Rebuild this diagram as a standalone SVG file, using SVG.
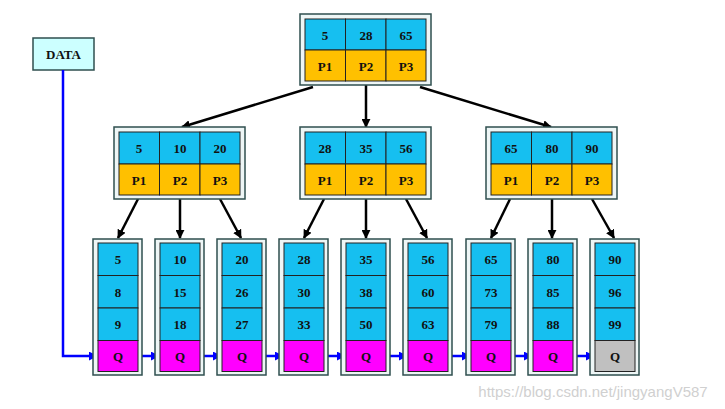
<svg xmlns="http://www.w3.org/2000/svg" width="725" height="409" viewBox="0 0 725 409">
<defs>
<marker id="ab" viewBox="0 0 10 10" refX="9" refY="5" markerWidth="9" markerHeight="9" markerUnits="userSpaceOnUse" orient="auto"><path d="M0,0L10,5L0,10z" fill="#000"/></marker>
<marker id="au" viewBox="0 0 10 10" refX="9" refY="5" markerWidth="9" markerHeight="9" markerUnits="userSpaceOnUse" orient="auto"><path d="M0,0L10,5L0,10z" fill="#0000ff"/></marker>
<style>
.o{fill:#eef6f6;stroke:#2f4f4f;stroke-width:1.5}
.k{fill:#16bff0;stroke:#222;stroke-width:1}
.y{fill:#ffc000;stroke:#222;stroke-width:1}
.m{fill:#ff00ff;stroke:#222;stroke-width:1}
.g{fill:#c0c0c0;stroke:#222;stroke-width:1}
text{font-family:"Liberation Serif",serif;font-weight:bold;font-size:13px;text-anchor:middle;fill:#111}
.c line{stroke:#000;stroke-width:2.5;marker-end:url(#ab)}
.b{stroke:#0000ff;stroke-width:2.5;fill:none}
</style>
</defs>
<rect width="725" height="409" fill="#fff"/>
<g id="data"><rect x="33" y="38" width="61" height="32" fill="#ccffff" stroke="#2f4f4f" stroke-width="1.5"/><text x="63.5" y="59" font-size="12">DATA</text></g>
<g class="c">
<line x1="313" y1="87" x2="182" y2="127"/>
<line x1="366" y1="84" x2="366" y2="127"/>
<line x1="420" y1="87" x2="551" y2="127"/>
<line x1="138" y1="199" x2="118" y2="238"/>
<line x1="180" y1="199" x2="180" y2="238"/>
<line x1="220" y1="199" x2="241" y2="238"/>
<line x1="324" y1="199" x2="304" y2="238"/>
<line x1="366" y1="199" x2="366" y2="238"/>
<line x1="406" y1="199" x2="427" y2="238"/>
<line x1="510" y1="199" x2="491" y2="238"/>
<line x1="552" y1="199" x2="552" y2="238"/>
<line x1="592" y1="199" x2="614" y2="238"/>
</g>
<g id="blue">
<polyline class="b" points="63,70 63,356 97,356" marker-end="url(#au)"/>
<line class="b" x1="139" y1="356" x2="159" y2="356" marker-end="url(#au)"/>
<line class="b" x1="201" y1="356" x2="221" y2="356" marker-end="url(#au)"/>
<line class="b" x1="263" y1="356" x2="283" y2="356" marker-end="url(#au)"/>
<line class="b" x1="325" y1="356" x2="345" y2="356" marker-end="url(#au)"/>
<line class="b" x1="387" y1="356" x2="407" y2="356" marker-end="url(#au)"/>
<line class="b" x1="449" y1="356" x2="470" y2="356" marker-end="url(#au)"/>
<line class="b" x1="512" y1="356" x2="532" y2="356" marker-end="url(#au)"/>
<line class="b" x1="574" y1="356" x2="594" y2="356" marker-end="url(#au)"/>
</g>
<g id="root" transform="translate(300,14)">
<rect class="o" width="131" height="71"/>
<rect class="k" x="5" y="5" width="40.5" height="31"/><rect class="k" x="45.5" y="5" width="40.5" height="31"/><rect class="k" x="86" y="5" width="40" height="31"/>
<rect class="y" x="5" y="36" width="40.5" height="31"/><rect class="y" x="45.5" y="36" width="40.5" height="31"/><rect class="y" x="86" y="36" width="40" height="31"/>
<text x="25" y="26">5</text><text x="66" y="26">28</text><text x="106" y="26">65</text>
<text x="25" y="57">P1</text><text x="66" y="57">P2</text><text x="106" y="57">P3</text>
</g>
<g id="n1" transform="translate(114,127)">
<rect class="o" width="131" height="72"/>
<rect class="k" x="5" y="5" width="40.5" height="32"/><rect class="k" x="45.5" y="5" width="40.5" height="32"/><rect class="k" x="86" y="5" width="40" height="32"/>
<rect class="y" x="5" y="37" width="40.5" height="31"/><rect class="y" x="45.5" y="37" width="40.5" height="31"/><rect class="y" x="86" y="37" width="40" height="31"/>
<text x="25" y="26">5</text><text x="66" y="26">10</text><text x="106" y="26">20</text>
<text x="25" y="58">P1</text><text x="66" y="58">P2</text><text x="106" y="58">P3</text>
</g>
<g id="n2" transform="translate(300,127)">
<rect class="o" width="131" height="72"/>
<rect class="k" x="5" y="5" width="40.5" height="32"/><rect class="k" x="45.5" y="5" width="40.5" height="32"/><rect class="k" x="86" y="5" width="40" height="32"/>
<rect class="y" x="5" y="37" width="40.5" height="31"/><rect class="y" x="45.5" y="37" width="40.5" height="31"/><rect class="y" x="86" y="37" width="40" height="31"/>
<text x="25" y="26">28</text><text x="66" y="26">35</text><text x="106" y="26">56</text>
<text x="25" y="58">P1</text><text x="66" y="58">P2</text><text x="106" y="58">P3</text>
</g>
<g id="n3" transform="translate(486,127)">
<rect class="o" width="131" height="72"/>
<rect class="k" x="5" y="5" width="40.5" height="32"/><rect class="k" x="45.5" y="5" width="40.5" height="32"/><rect class="k" x="86" y="5" width="40" height="32"/>
<rect class="y" x="5" y="37" width="40.5" height="31"/><rect class="y" x="45.5" y="37" width="40.5" height="31"/><rect class="y" x="86" y="37" width="40" height="31"/>
<text x="25" y="26">65</text><text x="66" y="26">80</text><text x="106" y="26">90</text>
<text x="25" y="58">P1</text><text x="66" y="58">P2</text><text x="106" y="58">P3</text>
</g>
<g id="l1" transform="translate(93,239)"><rect class="o" width="49" height="136"/><rect class="k" x="5" y="4" width="40" height="32.5"/><rect class="k" x="5" y="36.5" width="40" height="32.5"/><rect class="k" x="5" y="69" width="40" height="32.5"/><rect class="m" x="5" y="101.5" width="40" height="31"/><text x="25" y="25">5</text><text x="25" y="58">8</text><text x="25" y="90">9</text><text x="25" y="122" fill="#700070">Q</text></g>
<g id="l2" transform="translate(155,239)"><rect class="o" width="49" height="136"/><rect class="k" x="5" y="4" width="40" height="32.5"/><rect class="k" x="5" y="36.5" width="40" height="32.5"/><rect class="k" x="5" y="69" width="40" height="32.5"/><rect class="m" x="5" y="101.5" width="40" height="31"/><text x="25" y="25">10</text><text x="25" y="58">15</text><text x="25" y="90">18</text><text x="25" y="122" fill="#700070">Q</text></g>
<g id="l3" transform="translate(217,239)"><rect class="o" width="49" height="136"/><rect class="k" x="5" y="4" width="40" height="32.5"/><rect class="k" x="5" y="36.5" width="40" height="32.5"/><rect class="k" x="5" y="69" width="40" height="32.5"/><rect class="m" x="5" y="101.5" width="40" height="31"/><text x="25" y="25">20</text><text x="25" y="58">26</text><text x="25" y="90">27</text><text x="25" y="122" fill="#700070">Q</text></g>
<g id="l4" transform="translate(279,239)"><rect class="o" width="49" height="136"/><rect class="k" x="5" y="4" width="40" height="32.5"/><rect class="k" x="5" y="36.5" width="40" height="32.5"/><rect class="k" x="5" y="69" width="40" height="32.5"/><rect class="m" x="5" y="101.5" width="40" height="31"/><text x="25" y="25">28</text><text x="25" y="58">30</text><text x="25" y="90">33</text><text x="25" y="122" fill="#700070">Q</text></g>
<g id="l5" transform="translate(341,239)"><rect class="o" width="49" height="136"/><rect class="k" x="5" y="4" width="40" height="32.5"/><rect class="k" x="5" y="36.5" width="40" height="32.5"/><rect class="k" x="5" y="69" width="40" height="32.5"/><rect class="m" x="5" y="101.5" width="40" height="31"/><text x="25" y="25">35</text><text x="25" y="58">38</text><text x="25" y="90">50</text><text x="25" y="122" fill="#700070">Q</text></g>
<g id="l6" transform="translate(403,239)"><rect class="o" width="49" height="136"/><rect class="k" x="5" y="4" width="40" height="32.5"/><rect class="k" x="5" y="36.5" width="40" height="32.5"/><rect class="k" x="5" y="69" width="40" height="32.5"/><rect class="m" x="5" y="101.5" width="40" height="31"/><text x="25" y="25">56</text><text x="25" y="58">60</text><text x="25" y="90">63</text><text x="25" y="122" fill="#700070">Q</text></g>
<g id="l7" transform="translate(466,239)"><rect class="o" width="49" height="136"/><rect class="k" x="5" y="4" width="40" height="32.5"/><rect class="k" x="5" y="36.5" width="40" height="32.5"/><rect class="k" x="5" y="69" width="40" height="32.5"/><rect class="m" x="5" y="101.5" width="40" height="31"/><text x="25" y="25">65</text><text x="25" y="58">73</text><text x="25" y="90">79</text><text x="25" y="122" fill="#700070">Q</text></g>
<g id="l8" transform="translate(528,239)"><rect class="o" width="49" height="136"/><rect class="k" x="5" y="4" width="40" height="32.5"/><rect class="k" x="5" y="36.5" width="40" height="32.5"/><rect class="k" x="5" y="69" width="40" height="32.5"/><rect class="m" x="5" y="101.5" width="40" height="31"/><text x="25" y="25">80</text><text x="25" y="58">85</text><text x="25" y="90">88</text><text x="25" y="122" fill="#700070">Q</text></g>
<g id="l9" transform="translate(590,239)"><rect class="o" width="49" height="136"/><rect class="k" x="5" y="4" width="40" height="32.5"/><rect class="k" x="5" y="36.5" width="40" height="32.5"/><rect class="k" x="5" y="69" width="40" height="32.5"/><rect class="g" x="5" y="101.5" width="40" height="31"/><text x="25" y="25">90</text><text x="25" y="58">96</text><text x="25" y="90">99</text><text x="25" y="122">Q</text></g>
<text x="593" y="397" style="font-family:'Liberation Sans',sans-serif;font-weight:normal;font-size:15px;fill:#d0d0d0">https://blog.csdn.net/jingyangV587</text>
</svg>
